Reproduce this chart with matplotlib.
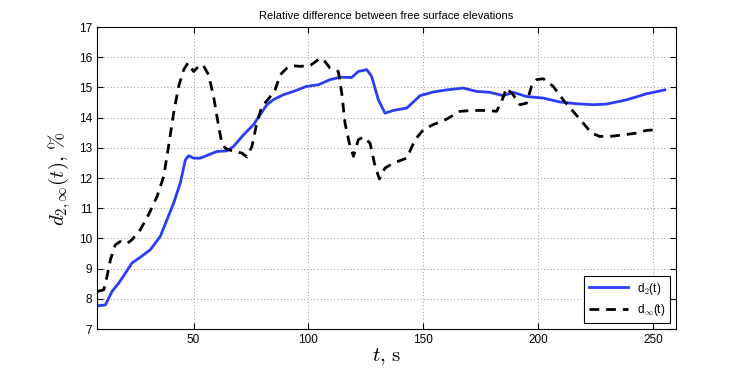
import numpy as np
import matplotlib.pyplot as plt

plt.rcParams["font.family"] = ["Liberation Sans", "DejaVu Sans"]
plt.rcParams["mathtext.fontset"] = "cm"

# d_2(t)
t_d2 = [8.3, 11.6, 14.5, 17.4, 20.3, 23.2, 26.8, 31.2, 35.5, 38.4, 41.3, 44.2,
        46.4, 47.8, 50.0, 52.9, 56.5, 60.1, 64.5, 67.4, 71.7, 76.1, 79.0, 81.9,
        84.8, 89.1, 93.5, 99.3, 104.3, 109.4, 113.8, 118.8, 121.7, 125.4, 127.5,
        130.4, 133.3, 137.0, 142.8, 148.6, 154.3, 160.1, 167.4, 173.2, 178.9,
        184.8, 189.1, 194.9, 202.2, 209.4, 216.7, 223.9, 229.7, 238.4, 247.1, 255.1]
d2 = [7.77, 7.80, 8.25, 8.52, 8.85, 9.19, 9.38, 9.63, 10.07, 10.62, 11.17, 11.83,
      12.60, 12.74, 12.66, 12.66, 12.77, 12.88, 12.90, 13.05, 13.43, 13.77, 14.10,
      14.43, 14.60, 14.76, 14.87, 15.04, 15.09, 15.26, 15.34, 15.33, 15.53, 15.59,
      15.37, 14.60, 14.15, 14.24, 14.32, 14.73, 14.85, 14.92, 14.98, 14.87, 14.84,
      14.73, 14.84, 14.70, 14.65, 14.52, 14.46, 14.43, 14.45, 14.59, 14.79, 14.92]

# d_inf(t)
t_dinf = [8.3, 10.9, 12.3, 13.8, 15.9, 18.1, 21.0, 23.2, 26.8, 30.4, 34.1, 37.0,
          39.1, 41.3, 43.5, 45.7, 47.5, 50.0, 52.2, 54.1, 56.5, 58.7, 60.9, 62.3,
          63.8, 67.4, 71.0, 73.2, 75.4, 77.5, 79.7, 82.6, 85.5, 87.7, 90.6, 93.5,
          96.4, 100.7, 105.1, 107.2, 109.4, 113.0, 114.5, 115.9, 118.1, 119.6,
          121.7, 123.9, 126.8, 129.0, 130.9, 133.3, 137.0, 142.8, 146.4, 150.0,
          154.3, 160.1, 165.9, 171.7, 177.5, 181.9, 184.1, 186.2, 189.1, 192.0,
          194.9, 197.1, 199.3, 202.2, 206.5, 210.9, 215.2, 219.6, 223.2, 226.8,
          231.2, 237.0, 242.8, 247.1, 252.2]
dinf = [8.25, 8.30, 8.74, 9.30, 9.79, 9.90, 9.83, 9.96, 10.29, 10.79, 11.39, 12.06,
        13.05, 14.15, 15.04, 15.59, 15.81, 15.53, 15.70, 15.75, 15.42, 14.70, 13.71,
        13.16, 12.99, 12.88, 12.83, 12.70, 13.05, 13.82, 14.37, 14.62, 14.92, 15.42,
        15.64, 15.72, 15.70, 15.72, 15.97, 15.86, 15.64, 15.53, 14.81, 13.82, 13.05,
        12.72, 13.27, 13.36, 13.16, 12.39, 11.97, 12.33, 12.50, 12.66, 13.27, 13.60,
        13.77, 13.95, 14.21, 14.24, 14.24, 14.21, 14.54, 14.98, 14.76, 14.43, 14.48,
        15.04, 15.26, 15.29, 15.04, 14.59, 14.21, 13.82, 13.49, 13.38, 13.38, 13.43,
        13.49, 13.58, 13.60]

xticks = [50, 100, 150, 200, 250]
yticks = list(range(7, 18))

fig = plt.figure(figsize=(7.47, 3.71), dpi=100)
ax = fig.add_axes([0.130, 0.113, 0.775, 0.814])

ax.plot(t_d2, d2, color="#2b3cf5", lw=2.0, label=r"d$_2$(t)")
ax.plot(t_dinf, dinf, color="black", lw=2.0, dashes=(3.5, 2.5), label=r"d$_\infty$(t)")

ax.set_xlim(8, 260)
ax.set_ylim(7, 17)
ax.set_xticks(xticks)
ax.set_yticks(yticks)
ax.tick_params(direction="in", top=True, right=True, labelsize=8.5, length=4)
ax.grid(True, linestyle=(0, (1, 3)), color="#777777", lw=0.6)

ax.set_title("Relative difference between free surface elevations", fontsize=8)
ax.set_xlabel(r"$t,\,\mathrm{s}$", fontsize=15, labelpad=0)
ax.set_ylabel(r"$d_{2,\infty}(t),\,\%$", fontsize=15, labelpad=4)

leg = ax.legend(loc="lower right", fontsize=8.5, fancybox=False, framealpha=1,
                edgecolor="black", handlelength=3.3, borderaxespad=0.5)
leg.get_frame().set_linewidth(0.8)

fig.savefig("out.png", dpi=100)
